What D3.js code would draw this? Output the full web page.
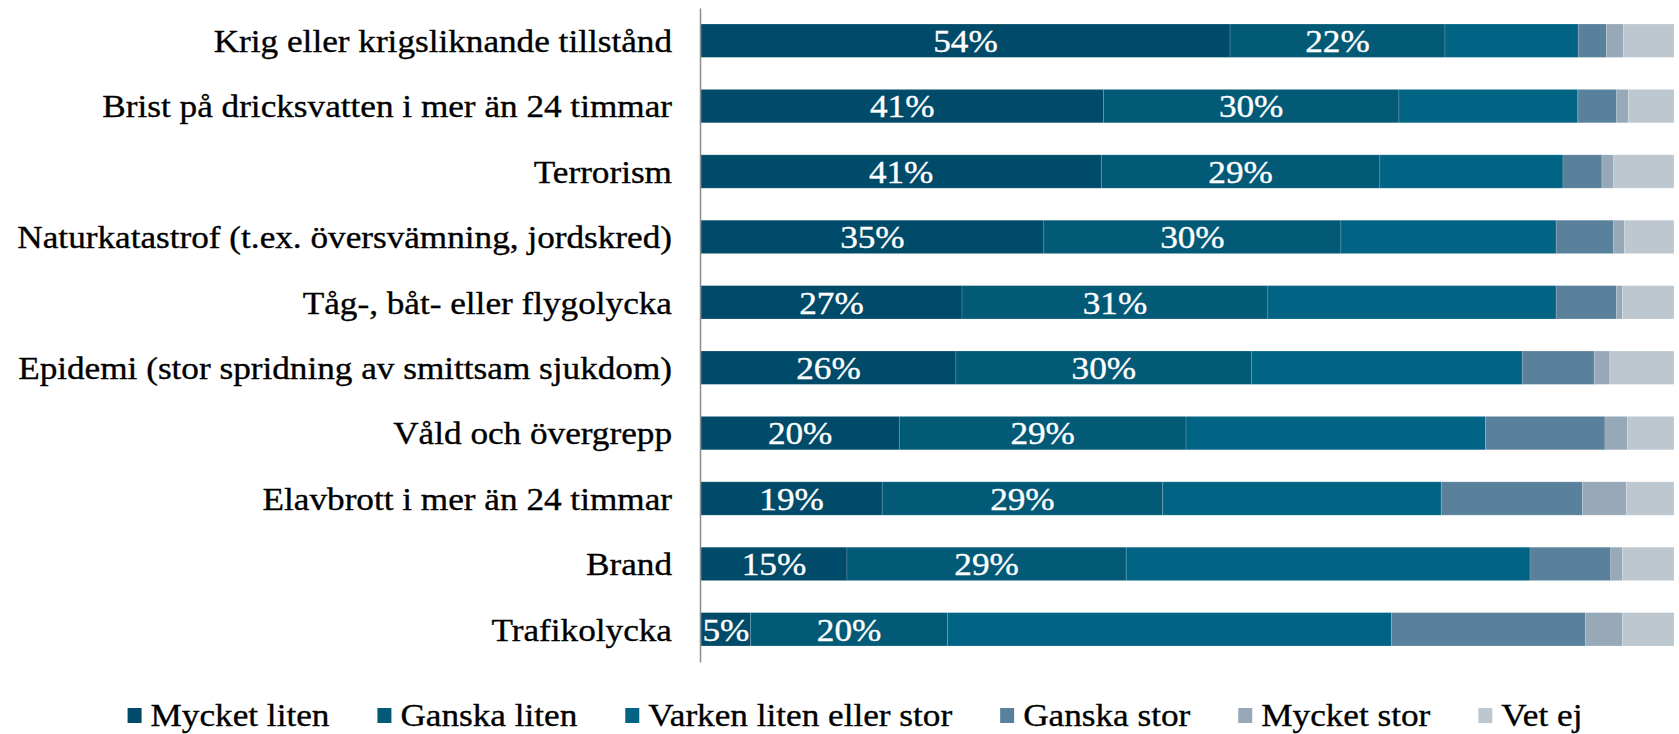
<!DOCTYPE html>
<html><head><meta charset="utf-8">
<script src="https://cdn.jsdelivr.net/npm/d3@7"></script>
<style>
html,body{margin:0;padding:0;background:#fff;}
svg{display:block;}
text{font-family:"Liberation Serif","DejaVu Serif",serif;}
</style></head>
<body>
<svg id="chart" width="1679" height="734"></svg>
<script>
const categories = [
  "Krig eller krigsliknande tillstånd",
  "Brist på dricksvatten i mer än 24 timmar",
  "Terrorism",
  "Naturkatastrof (t.ex. översvämning, jordskred)",
  "Tåg-, båt- eller flygolycka ",
  "Epidemi (stor spridning av smittsam sjukdom)",
  "Våld och övergrepp",
  "Elavbrott i mer än 24 timmar",
  "Brand",
  "Trafikolycka"
];
const seriesNames = ["Mycket liten","Ganska liten","Varken liten eller stor","Ganska stor","Mycket stor","Vet ej"];
const mycketLiten = [54.4, 41.4, 41.1, 35.2, 26.8, 26.2, 20.4, 18.6, 15.0, 5.1];
const ganskaLiten = [22.1, 30.4, 28.6, 30.5, 31.4, 30.4, 29.5, 28.8, 28.7, 20.2];
const varken      = [13.7, 18.4, 18.8, 22.1, 29.6, 27.8, 30.8, 28.6, 41.5, 45.6];
const ganskaStor  = [2.9, 4.0, 4.0, 5.9, 6.2, 7.4, 12.3, 14.5, 8.3, 19.9];
const mycketStor  = [1.75, 1.2, 1.2, 1.1, 0.6, 1.6, 2.3, 4.5, 1.2, 3.8];
const vetEj       = [5.2, 4.7, 6.2, 5.1, 5.3, 6.6, 4.8, 4.9, 5.3, 5.3];
const labelsML = ["54%","41%","41%","35%","27%","26%","20%","19%","15%","5%"];
const labelsGL = ["22%","30%","29%","30%","31%","30%","29%","29%","29%","20%"];
const colors = ["#004b69","#035a77","#026484","#5a819c","#97a9b9","#bdc7d0"];

const allSeries = [mycketLiten, ganskaLiten, varken, ganskaStor, mycketStor, vetEj];
const allLabels = [labelsML, labelsGL, null, null, null, null];

const rows = categories.map((c,i)=>{
  const o = {cat:c};
  seriesNames.forEach((s,j)=>{ o[s]=allSeries[j][i]; });
  return o;
});
rows.forEach(r=>{
  const t = d3.sum(seriesNames, s=>r[s]);
  seriesNames.forEach(s=>{ r[s]=r[s]/t*100; });
});

const svg = d3.select("#chart");
const x0 = 701, x1 = 1674;
const x = d3.scaleLinear().domain([0,100]).range([x0,x1]);
const y = d3.scaleBand().domain(categories).range([8,662]).paddingInner(0.49).paddingOuter(0.245);

const stacked = d3.stack().keys(seriesNames)(rows);

const fs = 32, sx = 1.1;
const txtStyle = sel => sel.style("font-size",fs+"px").attr("stroke-width",0.35);

const g = svg.append("g");
stacked.forEach((layer,k)=>{
  g.append("g").selectAll("rect").data(layer).join("rect")
    .attr("x", d=>x(d[0]))
    .attr("y", d=>y(d.data.cat))
    .attr("width", d=>x(d[1])-x(d[0]))
    .attr("height", y.bandwidth())
    .attr("fill", colors[k])
    .attr("stroke","rgba(255,255,255,0.18)")
    .attr("stroke-width",0.8);
  if (allLabels[k]) {
    g.append("g").selectAll("text").data(layer).join("text")
      .attr("transform", d=>`translate(${(x(d[0])+x(d[1]))/2},${y(d.data.cat)+y.bandwidth()/2}) scale(${sx},1)`)
      .attr("dy","0.35em")
      .attr("text-anchor","middle")
      .attr("fill","#fff").attr("stroke","#fff")
      .call(txtStyle)
      .text((d,i)=>allLabels[k][i]);
  }
});

// axis
const yAxis = d3.axisLeft(y).tickSize(0).tickPadding(28);
const ax = svg.append("g").attr("transform",`translate(${x0-1},0)`).call(yAxis);
ax.select(".domain").attr("stroke","#8c8c8c").attr("stroke-width",1.5);
ax.selectAll(".tick text")
  .attr("x",0).attr("dy","0.35em")
  .attr("transform",`translate(-28,0) scale(${sx},1)`)
  .attr("fill","#000").attr("stroke","#000")
  .call(txtStyle);

// legend
const lg = svg.append("g");
const items = seriesNames.map((s,i)=>{
  const gi = lg.append("g");
  gi.append("rect").attr("x",0).attr("y",-7).attr("width",14).attr("height",15).attr("fill",colors[i]);
  const t = gi.append("text").attr("transform",`translate(23,0) scale(${sx},1)`).attr("dy","0.35em")
    .attr("fill","#000").attr("stroke","#000").call(txtStyle).text(s);
  return {g:gi, w:23+t.node().getComputedTextLength()*sx};
});
const gap = 48;
const total = d3.sum(items,d=>d.w)+gap*(items.length-1);
let cx = 855 - total/2;
items.forEach(it=>{ it.g.attr("transform",`translate(${cx},715)`); cx += it.w+gap; });
</script>
</body></html>
